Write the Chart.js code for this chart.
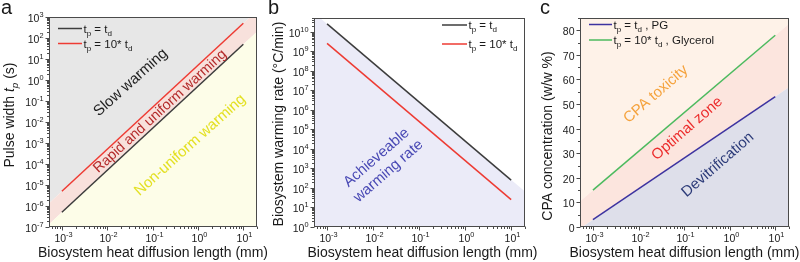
<!DOCTYPE html>
<html lang="en">
<head>
<meta charset="UTF-8">
<title>Pulse width, warming rate and CPA concentration</title>
<script src="https://cdn.jsdelivr.net/npm/chart.js"></script>
<style>
  body { margin: 0; background: #fff; width: 800px; height: 262px; position: relative; overflow: hidden; }
  canvas { position: absolute; top: 0; }
</style>
</head>
<body>
<canvas id="chartA" width="275" height="262" style="left:0"></canvas>
<canvas id="chartB" width="278" height="262" style="left:262px"></canvas>
<canvas id="chartC" width="272" height="262" style="left:528px"></canvas>
<script>
// ---- values ----
const lengthEnds = [1e-3, 10];        // mm, ends of the plotted lines
const lengthEdges = [5.2e-4, 20];     // mm, x range of the axes / shaded zones

// a: pulse width (s)
const pulseTd = [5e-7, 50];
const pulse10Td = [5e-6, 500];
const pulseTdEdge = [1.35e-7, 200];
const pulse10TdEdge = [1.35e-6, 2000];

// b: biosystem warming rate (°C/min)
const rateTd = [2.5e10, 250];
const rate10Td = [2.5e9, 25];
const rateTdEdge = [9.2e10, 65];

// c: CPA concentration (w/w %)
const cpaPG = [3, 53];
const cpaGlycerol = [15, 78];
const cpaPGEdge = [-0.6, 56.8];
const cpaGlycerolEdge = [10.5, 82.7];

// tick labels
const lengthDecades = [-4, -3, -2, -1, 0, 1];
const pulseDecades = [-7, -6, -5, -4, -3, -2, -1, 0, 1, 2, 3];
const rateDecades = [0, 1, 2, 3, 4, 5, 6, 7, 8, 9, 10];
const cpaTicks = [0, 10, 20, 30, 40, 50, 60, 70, 80];
const cpaMinorTicks = [5, 15, 25, 35, 45, 55, 65, 75, 85];

const FONT = '"Liberation Sans", Arial, sans-serif';

function pts(xs, ys) {
  return xs.map((x, i) => ({ x: x, y: ys[i] }));
}

function logTicks(decades) {
  const out = [];
  decades.forEach(d => {
    for (let k = 1; k <= 9; k++) out.push(k * Math.pow(10, d));
  });
  return out;
}

function isDecade(v) {
  const l = Math.log10(v);
  return Math.abs(l - Math.round(l)) < 1e-9;
}

function setFont(ctx, size, italic) {
  ctx.font = (italic ? 'italic ' : '') + size + 'px ' + FONT;
}

function partSize(p, size) {
  return (p.sub || p.sup) ? size * 0.7 : size;
}

function richWidth(ctx, parts, size) {
  let w = 0;
  parts.forEach(p => { setFont(ctx, partSize(p, size), p.it); w += ctx.measureText(p.t).width; });
  return w;
}

function drawRich(ctx, parts, x, y, size, align) {
  const w = richWidth(ctx, parts, size);
  let cx = align === 'center' ? x - w / 2 : align === 'right' ? x - w : x;
  ctx.textAlign = 'left';
  ctx.textBaseline = 'alphabetic';
  parts.forEach(p => {
    setFont(ctx, partSize(p, size), p.it);
    const dy = p.sub ? size * 0.3 : p.sup ? -size * 0.42 : 0;
    ctx.fillText(p.t, cx, y + dy);
    cx += ctx.measureText(p.t).width;
  });
}

function lineDs(data, color) {
  return { data: data, borderColor: color, borderWidth: 1.5, pointRadius: 0, fill: false, order: 0 };
}

function zoneDs(data, fill, color) {
  return { data: data, borderWidth: 0, borderColor: 'transparent', backgroundColor: color, pointRadius: 0, fill: fill, order: 1 };
}

function scale(type, min, max, tickValues, fit) {
  return {
    type: type, min: min, max: max,
    grid: { display: false, drawTicks: false },
    border: { display: false },
    ticks: { display: false },
    afterBuildTicks: ax => { ax.ticks = tickValues.map(v => ({ value: v })); },
    afterFit: fit
  };
}

function decoPlugin(cfg) {
  return {
    id: 'deco',
    afterDatasetsDraw(chart) {
      const ctx = chart.ctx, a = chart.chartArea;
      const xs = chart.scales.x, ys = chart.scales.y;
      ctx.save();
      ctx.fillStyle = '#1a1a1a';
      ctx.strokeStyle = '#4a4a4a';
      ctx.lineWidth = 1;
      // frame
      const L = Math.round(a.left) + 0.5, T = Math.round(a.top) + 0.5;
      const R = Math.round(a.right) - 0.5, B = Math.round(a.bottom) - 0.5;
      ctx.strokeRect(L, T, R - L, B - T);

      // x ticks (log)
      xs.ticks.forEach(t => {
        if (t.value < xs.min || t.value > xs.max) return;
        const p = Math.round(xs.getPixelForValue(t.value)) + 0.5;
        const major = isDecade(t.value);
        ctx.beginPath(); ctx.moveTo(p, B); ctx.lineTo(p, B + (major ? 4 : 2.5)); ctx.stroke();
        if (major) {
          drawRich(ctx, [{ t: '10' }, { t: String(Math.round(Math.log10(t.value))), sup: true }], p + 1, B + 15, 10.5, 'center');
        }
      });
      // y ticks
      ys.ticks.forEach(t => {
        if (t.value < ys.min || t.value > ys.max) return;
        const p = Math.round(ys.getPixelForValue(t.value)) + 0.5;
        const major = cfg.yLog ? isDecade(t.value) : cpaTicks.includes(t.value);
        ctx.beginPath(); ctx.moveTo(L, p); ctx.lineTo(L - (major ? 4 : 2.5), p); ctx.stroke();
        if (major) {
          const parts = cfg.yLog
            ? [{ t: '10' }, { t: String(Math.round(Math.log10(t.value))), sup: true }]
            : [{ t: String(t.value) }];
          drawRich(ctx, parts, L - 6, p + 4, 10.5, 'right');
        }
      });

      // region labels
      cfg.notes.forEach(n => {
        ctx.save();
        ctx.translate(xs.getPixelForValue(n.x), ys.getPixelForValue(n.y));
        ctx.rotate(-n.angle * Math.PI / 180);
        ctx.fillStyle = n.color;
        setFont(ctx, n.size || 15, false);
        ctx.textAlign = 'center';
        ctx.textBaseline = 'middle';
        const lh = 18;
        n.lines.forEach((s, i) => ctx.fillText(s, 0, (i - (n.lines.length - 1) / 2) * lh));
        ctx.restore();
      });

      // legend
      const lg = cfg.legend;
      lg.items.forEach((it, i) => {
        const y = lg.y + i * lg.dy;
        ctx.strokeStyle = it.color;
        ctx.lineWidth = 1.5;
        ctx.beginPath(); ctx.moveTo(lg.x1, y); ctx.lineTo(lg.x2, y); ctx.stroke();
        ctx.fillStyle = '#1a1a1a';
        drawRich(ctx, it.parts, lg.x2 + 1.5, y + 4, 11.5, 'left');
      });

      // axis titles
      ctx.fillStyle = '#1a1a1a';
      drawRich(ctx, [{ t: 'Biosystem heat diffusion length (mm)' }], (a.left + a.right) / 2 + cfg.xTitleShift, 257, 14, 'center');
      ctx.save();
      ctx.translate(cfg.yTitleX, cfg.yTitleY);
      ctx.rotate(-Math.PI / 2);
      drawRich(ctx, cfg.yTitle, 0, 0, 14, 'center');
      ctx.restore();

      // panel letter
      setFont(ctx, 20, false);
      ctx.textAlign = 'left';
      ctx.textBaseline = 'alphabetic';
      ctx.fillText(cfg.letter, cfg.letterX, 14);
      ctx.restore();
    }
  };
}

function makeChart(id, datasets, xScale, yScale, padding, cfg) {
  new Chart(document.getElementById(id), {
    type: 'line',
    data: { datasets: datasets },
    options: {
      responsive: false,
      animation: false,
      devicePixelRatio: 1,
      events: [],
      layout: { padding: padding },
      plugins: { legend: { display: false }, tooltip: { enabled: false } },
      scales: { x: xScale, y: yScale }
    },
    plugins: [decoPlugin(cfg)]
  });
}

const tdParts = [{ t: 't' }, { t: 'p', sub: true }, { t: ' = t' }, { t: 'd', sub: true }];
const td10Parts = [{ t: 't' }, { t: 'p', sub: true }, { t: ' = 10* t' }, { t: 'd', sub: true }];
const xTicks = logTicks(lengthDecades);

// ---- panel a (canvas at x = 0) ----
makeChart('chartA', [
  zoneDs(pts(lengthEdges, pulseTdEdge), 'start', '#fdfde8'),
  zoneDs(pts(lengthEdges, pulse10TdEdge), '-1', '#f8e1dc'),
  zoneDs(pts(lengthEdges, pulse10TdEdge), 'end', '#e7e7e7'),
  lineDs(pts(lengthEnds, pulseTd), '#3c3c3c'),
  lineDs(pts(lengthEnds, pulse10Td), '#ee3b33')
],
  scale('logarithmic', lengthEdges[0], lengthEdges[1], xTicks, s => { s.height = 35; }),
  scale('logarithmic', 1e-7, 1e3, logTicks(pulseDecades), s => { s.width = 49; }),
  { top: 17, right: 18, left: 0, bottom: 0 },
  {
    yLog: true, letter: 'a', letterX: 1, xTitleShift: 0,
    yTitle: [{ t: 'Pulse width ' }, { t: 't', it: true }, { t: 'p', it: true, sub: true }, { t: ' (s)' }],
    yTitleX: 13.5, yTitleY: 115,
    legend: { x1: 58, x2: 82, y: 28.5, dy: 15, items: [
      { color: '#3c3c3c', parts: tdParts },
      { color: '#ee3b33', parts: td10Parts }
    ] },
    notes: [
      { lines: ['Slow warming'], x: 0.033, y: 0.76, angle: 42, color: '#1e1e1e' },
      { lines: ['Rapid and uniform warming'], x: 0.146, y: 0.032, angle: 42.5, size: 14.3, color: '#b32a2a' },
      { lines: ['Non-uniform warming'], x: 0.67, y: 7.9e-4, angle: 42, color: '#e3e022' }
    ]
  });

// ---- panel b (canvas at x = 262) ----
makeChart('chartB', [
  zoneDs(pts(lengthEdges, rateTdEdge), 'start', '#ebebf8'),
  lineDs(pts(lengthEnds, rateTd), '#3c3c3c'),
  lineDs(pts(lengthEnds, rate10Td), '#ee3b33')
],
  scale('logarithmic', lengthEdges[0], lengthEdges[1], xTicks, s => { s.height = 35; }),
  scale('logarithmic', 1, 5e10, logTicks(rateDecades), s => { s.width = 52; }),
  { top: 18, right: 15, left: 0, bottom: 0 },
  {
    yLog: true, letter: 'b', letterX: 6, xTitleShift: 3,
    yTitle: [{ t: 'Biosystem warming rate (°C/min)' }],
    yTitleX: 21, yTitleY: 124,
    legend: { x1: 180, x2: 205, y: 25, dy: 19, items: [
      { color: '#3c3c3c', parts: tdParts },
      { color: '#ee3b33', parts: td10Parts }
    ] },
    notes: [
      { lines: ['Achieveable', 'warming rate'], x: 0.016, y: 1600, angle: 41, color: '#4848b4' }
    ]
  });

// ---- panel c (canvas at x = 528) ----
makeChart('chartC', [
  zoneDs(pts(lengthEdges, cpaPGEdge), 'start', '#dedfea'),
  zoneDs(pts(lengthEdges, cpaGlycerolEdge), '-1', '#fce5de'),
  zoneDs(pts(lengthEdges, cpaGlycerolEdge), 'end', '#fef2e8'),
  lineDs(pts(lengthEnds, cpaPG), '#3d33a0'),
  lineDs(pts(lengthEnds, cpaGlycerol), '#4cba5e')
],
  scale('logarithmic', lengthEdges[0], lengthEdges[1], xTicks, s => { s.height = 35; }),
  scale('linear', 0, 85, cpaTicks.concat(cpaMinorTicks), s => { s.width = 52; }),
  { top: 18, right: 11, left: 0, bottom: 0 },
  {
    yLog: false, letter: 'c', letterX: 12, xTitleShift: 0,
    yTitle: [{ t: 'CPA concentration (w/w %)' }],
    yTitleX: 23.5, yTitleY: 136,
    legend: { x1: 61, x2: 84, y: 24.5, dy: 15.5, items: [
      { color: '#3d33a0', parts: [{ t: 't' }, { t: 'p', sub: true }, { t: ' = t' }, { t: 'd', sub: true }, { t: ' , PG' }] },
      { color: '#4cba5e', parts: [{ t: 't' }, { t: 'p', sub: true }, { t: ' = 10* t' }, { t: 'd', sub: true }, { t: ' , Glycerol' }] }
    ] },
    notes: [
      { lines: ['CPA toxicity'], x: 0.024, y: 54, angle: 41, color: '#f5a23c' },
      { lines: ['Optimal zone'], x: 0.117, y: 40, angle: 41, color: '#ec2b2b' },
      { lines: ['Devitrification'], x: 0.55, y: 25.3, angle: 41, color: '#2b3a78' }
    ]
  });
</script>
</body>
</html>
